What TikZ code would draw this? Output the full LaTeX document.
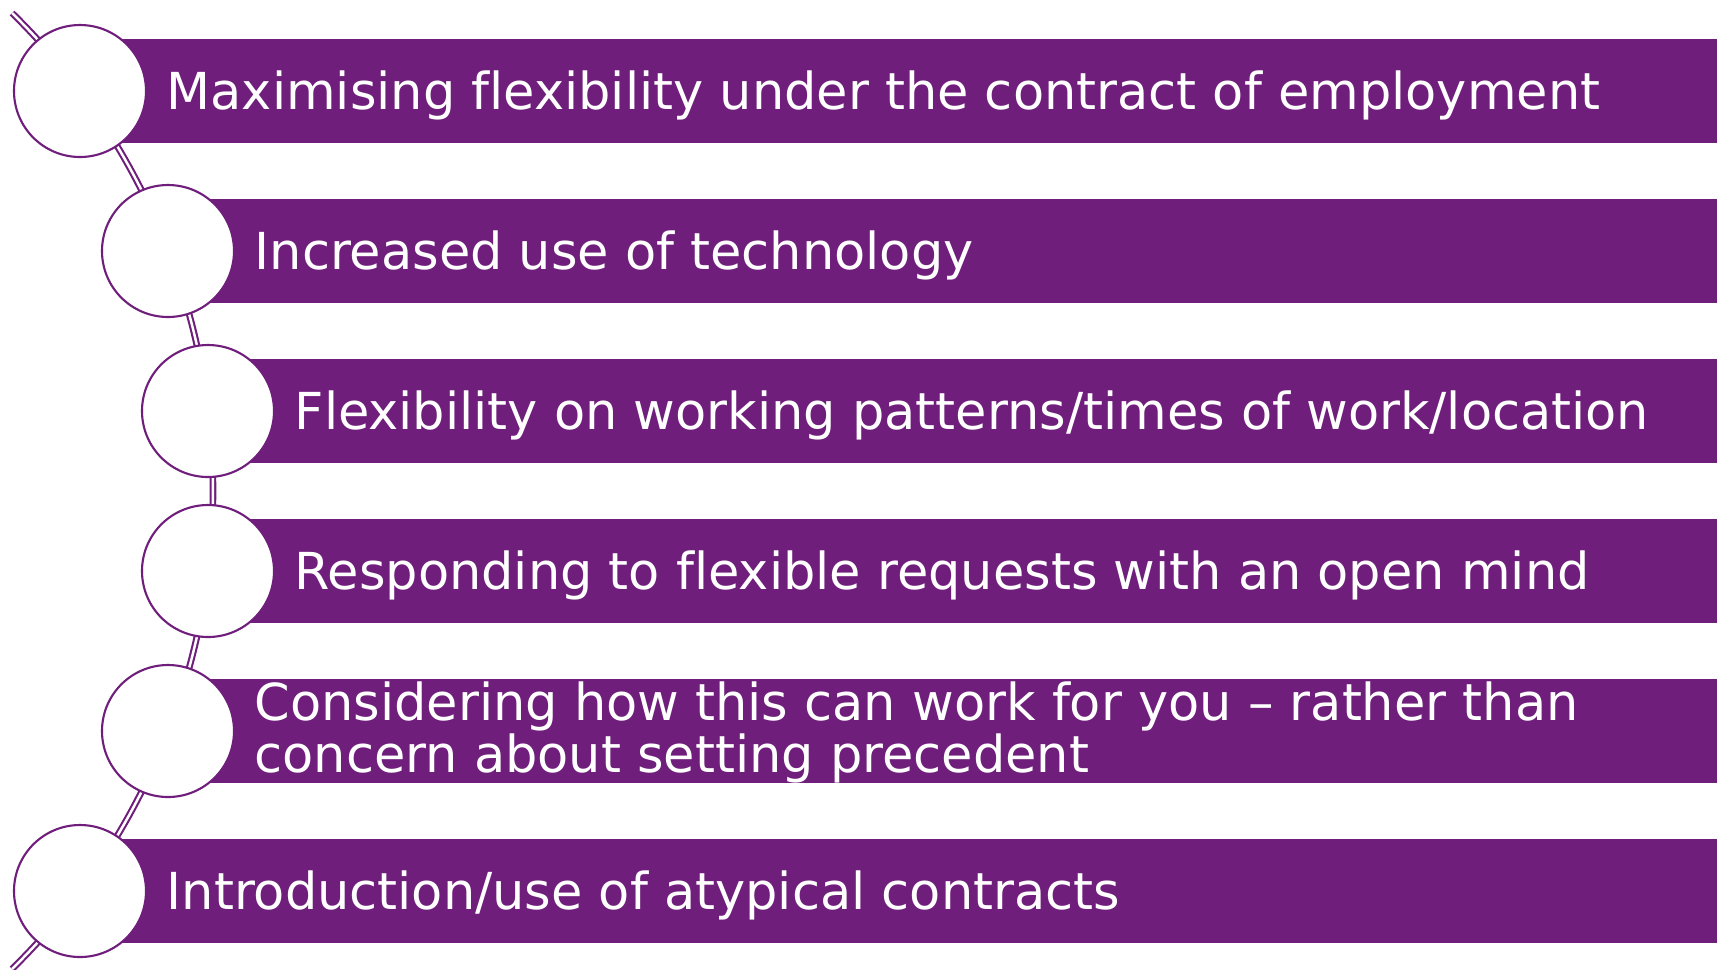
\documentclass[tikz,border=0pt]{standalone}
\usepackage{fontspec}
\setmainfont[Ligatures=NoCommon]{DejaVu Sans}
\usetikzlibrary{positioning}

\definecolor{listpurple}{RGB}{111,31,123}

\begin{document}
\begin{tikzpicture}[
        bar/.style={fill=listpurple,draw=none},
        bullet/.style={circle,draw=listpurple,line width=0.6pt,fill=white,minimum size=1.32cm,inner sep=0pt},
        link/.style={draw=listpurple,line width=0.6pt,double=white,double distance=0.7pt},
        itemtext/.style={text=white,inner sep=0pt,anchor=base west,font=\fontsize{14.5pt}{17pt}\selectfont}
    ]
        \useasboundingbox (0,0) rectangle (17.17,-9.69);

        % Circle centres
        \coordinate (p1) at (0.80,-0.91);
        \coordinate (p2) at (1.68,-2.51);
        \coordinate (p3) at (2.08,-4.11);
        \coordinate (p4) at (2.08,-5.71);
        \coordinate (p5) at (1.68,-7.31);
        \coordinate (p6) at (0.80,-8.91);

        % Curved link behind the circles
        \coordinate (arcC) at (-4.56,-4.91);
        \draw[link] (arcC) ++(45.6:6.69) arc[start angle=45.6,end angle=-45.6,radius=6.69];

        % Bars
        \fill[bar] (p1) ++(0,0.52) rectangle (17.17,-1.43);
        \fill[bar] (p2) ++(0,0.52) rectangle (17.17,-3.03);
        \fill[bar] (p3) ++(0,0.52) rectangle (17.17,-4.63);
        \fill[bar] (p4) ++(0,0.52) rectangle (17.17,-6.23);
        \fill[bar] (p5) ++(0,0.52) rectangle (17.17,-7.83);
        \fill[bar] (p6) ++(0,0.52) rectangle (17.17,-9.43);

        % Circles
        \node[bullet] (c1) at (p1) {};
        \node[bullet] (c2) at (p2) {};
        \node[bullet] (c3) at (p3) {};
        \node[bullet] (c4) at (p4) {};
        \node[bullet] (c5) at (p5) {};
        \node[bullet] (c6) at (p6) {};

        % Texts
        \node[itemtext] (t1) at (1.66,-1.09) {Maximising flexibility under the contract of employment};
        \node[itemtext] (t2) at (2.54,-2.69) {Increased use of technology};
        \node[itemtext] (t3) at (2.94,-4.29) {Flexibility on working patterns/times of work/location};
        \node[itemtext] (t4) at (2.94,-5.89) {Responding to flexible requests with an open mind};
        \node[itemtext] (t5) at (2.54,-7.20) {Considering how this can work for you – rather than};
        \node[itemtext] (t5b) at (2.54,-7.72) {concern about setting precedent};
        \node[itemtext] (t6) at (1.66,-9.09) {Introduction/use of atypical contracts};

    \end{tikzpicture}
\end{document}
